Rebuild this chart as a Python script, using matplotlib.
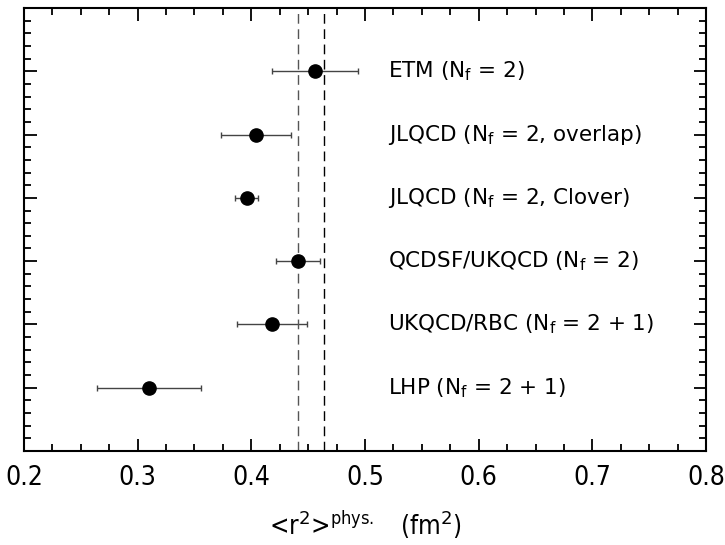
import numpy as np
import matplotlib.pyplot as plt
from matplotlib.ticker import MultipleLocator, NullFormatter

plt.rcParams['font.family'] = ['DejaVu Sans']
plt.rcParams['mathtext.fontset'] = 'custom'
plt.rcParams['mathtext.rm'] = 'DejaVu Sans'

# data
groups = ['ETM', 'JLQCD', 'JLQCD', 'QCDSF/UKQCD', 'UKQCD/RBC', 'LHP']
details = ['2)', '2, overlap)', '2, Clover)', '2)', '2 + 1)', '2 + 1)']
r2 = [0.456, 0.404, 0.396, 0.441, 0.418, 0.310]
r2_err = [0.038, 0.031, 0.010, 0.019, 0.031, 0.046]
rows = [6, 5, 4, 3, 2, 1]
band = [0.441, 0.4635]

fig = plt.figure(figsize=(7.25, 5.45), dpi=100)
ax = fig.add_axes([0.0331, 0.1725, 0.9407, 0.8128])

ax.errorbar(r2, rows, xerr=r2_err, fmt='o', color='black', markersize=9.5,
            ecolor='#444444', elinewidth=1.0, capsize=2.5, capthick=1.0)
ax.axvline(band[0], color='#555555', linestyle=(0, (7, 4)), linewidth=1.0)
ax.axvline(band[1], color='black', linestyle=(0, (7, 4)), linewidth=1.0)

for g, d, y in zip(groups, details, rows):
    ax.text(0.52, y, g + r' ($\mathregular{N_f}$ = ' + d, fontsize=15.5,
            va='center', ha='left')

ax.set_xlim(0.2, 0.8)
ax.set_ylim(0, 7)
ax.xaxis.set_major_locator(MultipleLocator(0.1))
ax.xaxis.set_minor_locator(MultipleLocator(0.025))
ax.yaxis.set_major_locator(MultipleLocator(1))
ax.yaxis.set_minor_locator(MultipleLocator(0.2))
ax.yaxis.set_major_formatter(NullFormatter())
ax.tick_params(which='both', direction='in', top=True, right=True, width=1.3)
ax.tick_params(which='major', length=9)
ax.tick_params(which='minor', length=5)
ax.tick_params(axis='x', labelsize=19, pad=10)
for lab in ax.get_xticklabels():
    lab.set_fontstretch('condensed')
for s in ax.spines.values():
    s.set_linewidth(1.5)

ax.set_xlabel(r'<r$^{2}$>$^{\mathregular{phys.}}$   (fm$^{2}$)', fontsize=18.5,
              labelpad=13, fontstretch='condensed')

fig.savefig('out.png', dpi=100)
